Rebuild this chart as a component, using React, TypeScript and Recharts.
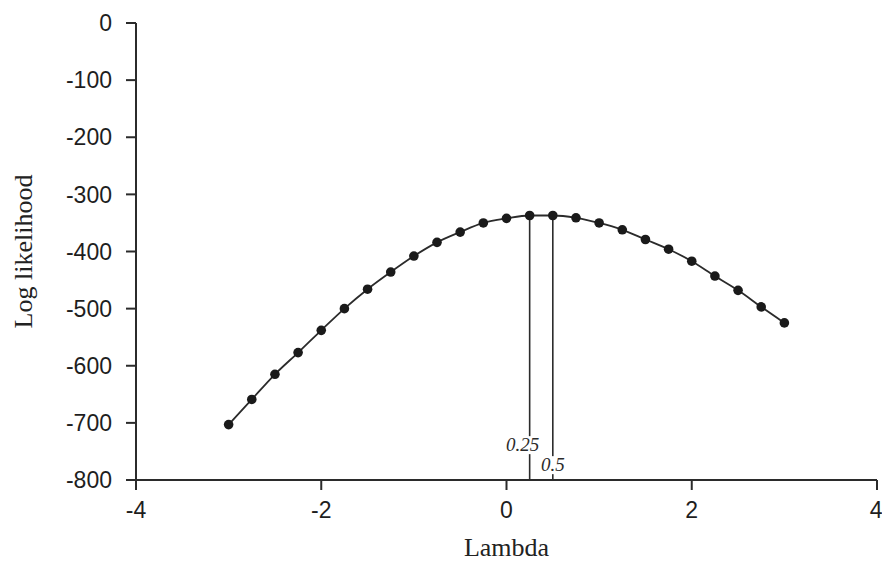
import React from 'react';
import {
  LineChart,
  Line,
  XAxis,
  YAxis,
  ReferenceLine,
  ReferenceDot,
  Label,
} from 'recharts';

// lambda values, -3 .. 3 in steps of 0.25
const lambdas = [
  -3, -2.75, -2.5, -2.25, -2, -1.75, -1.5, -1.25, -1, -0.75, -0.5, -0.25,
  0, 0.25, 0.5, 0.75, 1, 1.25, 1.5, 1.75, 2, 2.25, 2.5, 2.75, 3,
];
const logLik = [
  -703, -659, -615, -577, -538, -500, -466, -436, -408, -384, -366, -350,
  -342, -337, -337, -341, -350, -362, -379, -396, -417, -443, -468, -497, -525,
];

const xTicks = [-4, -2, 0, 2, 4];
const yTicks = [0, -100, -200, -300, -400, -500, -600, -700, -800];

// highlighted lambdas, dropped to the axis
const marks = ['0.25', '0.5'];
const markTop = [-337, -337];
const markLabelY = [-739, -774];

const data = lambdas.map((x, i) => ({ x, y: logLik[i] }));

const INK = '#2b2b2b';
const sans = '"Liberation Sans", Arial, sans-serif';
const serif = '"Liberation Serif", "Times New Roman", serif';

function MarkLabel(props: any) {
  const { cx, cy, text, shift } = props;
  const w = text.length * 9 + 4;
  return (
    <g>
      <rect x={cx + shift - w / 2} y={cy - 9} width={w} height={18} fill="#fff" />
      <text
        x={cx + shift}
        y={cy + 6}
        textAnchor="middle"
        fontFamily={serif}
        fontStyle="italic"
        fontSize={19}
        fill={INK}
      >
        {text}
      </text>
    </g>
  );
}

export default function App() {
  return (
    <div style={{ position: 'absolute', left: 0, top: 0, background: '#fff' }}>
      <LineChart
        width={882}
        height={562}
        data={data}
        margin={{ top: 23, right: 5, bottom: 0, left: 0 }}
      >
        <XAxis
          dataKey="x"
          type="number"
          domain={[-4, 4]}
          ticks={xTicks}
          height={82}
          tickSize={10}
          tickMargin={12}
          stroke={INK}
          strokeWidth={2}
          tick={{ fill: '#1e1e1e', fontSize: 23, fontFamily: sans }}
        >
          <Label
            content={(p: any) => {
              const vb = p.viewBox;
              return (
                <text
                  x={vb.x + vb.width / 2}
                  y={vb.y + vb.height - 6}
                  textAnchor="middle"
                  fontFamily={serif}
                  fontSize={26}
                  fill="#222"
                >
                  Lambda
                </text>
              );
            }}
          />
        </XAxis>
        <YAxis
          type="number"
          domain={[-800, 0]}
          ticks={yTicks}
          width={136}
          tickSize={10}
          tickMargin={14}
          stroke={INK}
          strokeWidth={2}
          tick={{ fill: '#1e1e1e', fontSize: 23, fontFamily: sans }}
        >
          <Label
            content={(p: any) => {
              const vb = p.viewBox;
              const cx = vb.x + 32;
              const cy = vb.y + vb.height / 2;
              return (
                <text
                  x={cx}
                  y={cy}
                  transform={`rotate(-90, ${cx}, ${cy})`}
                  textAnchor="middle"
                  fontFamily={serif}
                  fontSize={26}
                  fill="#222"
                >
                  Log likelihood
                </text>
              );
            }}
          />
        </YAxis>
        {marks.map((m, i) => (
          <ReferenceLine
            key={'l' + m}
            segment={[
              { x: Number(m), y: markTop[i] },
              { x: Number(m), y: -800 },
            ]}
            stroke={INK}
            strokeWidth={1.6}
          />
        ))}
        {marks.map((m, i) => (
          <ReferenceDot
            key={'d' + m}
            x={Number(m)}
            y={markLabelY[i]}
            r={0}
            shape={(p: any) => (
              <MarkLabel cx={p.cx} cy={p.cy} text={m} shift={i === 0 ? -7 : 0} />
            )}
          />
        ))}
        <Line
          type="monotone"
          dataKey="y"
          stroke={INK}
          strokeWidth={1.8}
          dot={{ r: 4.8, fill: '#1a1a1a', stroke: '#1a1a1a', strokeWidth: 0 }}
          isAnimationActive={false}
        />
      </LineChart>
    </div>
  );
}
